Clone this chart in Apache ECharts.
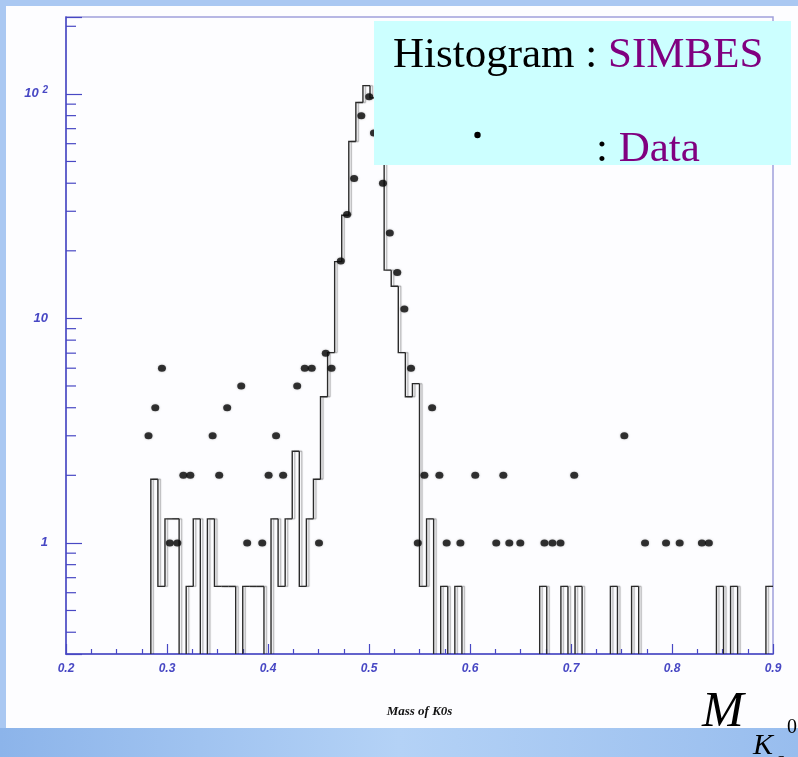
<!DOCTYPE html>
<html>
<head>
<meta charset="utf-8">
<script src="https://cdn.jsdelivr.net/npm/echarts@6/dist/echarts.min.js"></script>
<style>
html,body{margin:0;padding:0;background:#aac8f2;}
#main{width:798px;height:757px;}
</style>
</head>
<body>
<div id="main"></div>
<script>
// SIMBES histogram (already scaled), 100 bins of 0.007 from 0.2
var binStart = 0.2;
var binWidth = 0.007;
var simbesHist = [
    0,0,0,0,0,0,0,0,0,0,0,0,
    1.92,0.64,1.28,1.28,0,0.64,1.28,0,1.28,0.64,
    0.64,0.64,0,0.64,0.64,0.64,0,1.28,0.64,1.28,
    2.56,0.64,1.28,1.92,4.48,7.04,17.9,28.8,61.4,91.5,
    108.8,96,72,16.4,13.9,7.04,4.48,5.12,0.64,1.28,
    0,0.64,0,0.64,0,0,0,0,0,0,
    0,0,0,0,0,0.64,0,0,0.64,0,
    0.64,0,0,0,0,0.64,0,0,0.64,0,
    0,0,0,0,0,0,0,0,0,0,
    0.64,0,0.64,0,0,0,0,0.64
];

// Data points
var dataMass = [0.2817,0.2884,0.2950,0.3028,0.3102,0.3162,0.3231,0.3452,0.3517,0.3596,
    0.3735,0.3794,0.3943,0.4006,0.4080,0.4150,0.4289,0.4364,0.4433,0.4505,
    0.4572,0.4629,0.4721,0.4783,0.4853,0.4924,0.5002,0.5049,0.5138,0.5206,
    0.5280,0.5350,0.5416,0.5483,0.5548,0.5625,0.5697,0.5769,0.5905,0.6052,
    0.6260,0.6330,0.6389,0.6498,0.6737,0.6816,0.6896,0.7032,0.7528,0.7733,
    0.7941,0.8076,0.8296,0.8365];
var dataCount = [3,4,6,1,1,2,2,3,2,4,
    5,1,1,2,3,2,5,6,6,1,
    7,6,18,29,42,80,97,67,40,24,
    16,11,6,1,2,4,2,1,1,2,
    1,2,1,1,1,1,1,2,3,1,
    1,1,1,1];

// axis ranges and ticks
var xMin = 0.2, xMax = 0.9, xStep = 0.1;
var yMin = 0.32, yMax = 220;
var yMinorTicks = [0.4,0.5,0.6,0.7,0.8,0.9,2,3,4,5,6,7,8,9,20,30,40,50,60,70,80,90,200];

var axisBlue = '#4848c4';
var myChart = echarts.init(document.getElementById('main'));

var histData = simbesHist.map(function(h, i){
    return [binStart + i * binWidth, binStart + (i + 1) * binWidth, h, i > 0 ? simbesHist[i - 1] : 0];
});
var pointData = dataMass.map(function(m, i){ return [m, dataCount[i]]; });

function clampY(v){ return Math.max(v, yMin); }

function renderHist(params, api){
    var x0 = api.value(0), x1 = api.value(1), h = api.value(2), hp = api.value(3);
    if (h <= 0 && hp <= 0) return null;
    var pts = [api.coord([x0, clampY(hp)]), api.coord([x0, clampY(h)])];
    if (h > 0) pts.push(api.coord([x1, h]));
    return {
        type: 'polyline',
        shape: {points: pts},
        style: {fill: null, stroke: '#2b2b2b', lineWidth: 1.4,
            shadowColor: 'rgba(0,0,0,0.28)', shadowOffsetX: 2.5, shadowBlur: 1}
    };
}

function renderMinor(params, api){
    var p = api.coord([xMin, api.value(0)]);
    return {
        type: 'line',
        shape: {x1: p[0], y1: p[1], x2: p[0] + 10, y2: p[1]},
        style: {stroke: axisBlue, lineWidth: 1.2}
    };
}

var option = {
    backgroundColor: '#aac8f2',
    animation: false,
    grid: {left: 66, right: 25, top: 17, bottom: 103, show: true,
        borderColor: '#a0a0dc', borderWidth: 1.5, backgroundColor: 'transparent'},
    xAxis: {
        type: 'value', min: xMin, max: xMax, interval: xStep,
        name: 'Mass of K0s', nameLocation: 'middle', nameGap: 51,
        nameTextStyle: {fontFamily: 'Liberation Serif', fontStyle: 'italic', fontWeight: 'bold', fontSize: 13, color: '#111'},
        axisLine: {lineStyle: {color: axisBlue, width: 1.5}},
        axisTick: {inside: true, length: 10, lineStyle: {color: axisBlue, width: 1.2}},
        minorTick: {show: true, splitNumber: 4, length: 5, lineStyle: {color: axisBlue, width: 1.2}},
        splitLine: {show: false},
        axisLabel: {margin: 9, fontFamily: 'Liberation Sans', fontStyle: 'italic', fontWeight: 'bold',
            fontSize: 12, color: axisBlue,
            formatter: function(v){ return v.toFixed(1); }}
    },
    yAxis: {
        type: 'log', logBase: 10, min: yMin, max: yMax,
        axisLine: {lineStyle: {color: axisBlue, width: 1.5}},
        axisTick: {inside: true, length: 16, lineStyle: {color: axisBlue, width: 1.2}},
        splitLine: {show: false},
        axisLabel: {
            margin: 18, fontFamily: 'Liberation Sans', fontStyle: 'italic', fontWeight: 'bold',
            fontSize: 13, color: axisBlue,
            formatter: function(v){
                var l = Math.log10(v);
                if (Math.abs(l - Math.round(l)) > 1e-6) return '';
                var e = Math.round(l);
                if (e === 0) return '1';
                if (e === 1) return '10';
                return '10 {s|' + e + '}';
            },
            rich: {s: {fontSize: 10, fontStyle: 'italic', fontWeight: 'bold', color: axisBlue, verticalAlign: 'top', padding: [0, 0, 8, 0]}}
        }
    },
    series: [
        {type: 'custom', name: 'minorY', renderItem: renderMinor, data: yMinorTicks, silent: true, clip: false, z: 3},
        {type: 'custom', name: 'SIMBES', renderItem: renderHist, data: histData, silent: true, clip: true, z: 4},
        {type: 'scatter', name: 'Data', data: pointData, symbol: 'circle', symbolSize: [8, 7],
            itemStyle: {color: '#0a0a0a', shadowColor: 'rgba(0,0,0,0.35)', shadowBlur: 2}, z: 5}
    ],
    graphic: [
        {type: 'rect', z: -1, shape: {x: 6, y: 6, width: 792, height: 722}, style: {fill: '#fdfdff'}},
        {type: 'rect', z: -1, shape: {x: 0, y: 728, width: 798, height: 29},
            style: {fill: new echarts.graphic.LinearGradient(0, 0, 1, 0, [
                {offset: 0, color: '#8cb4ea'}, {offset: 0.5, color: '#b4d2f6'}, {offset: 1, color: '#98bdee'}])}},
        {type: 'rect', z: 10, shape: {x: 374, y: 21, width: 417, height: 144}, style: {fill: '#ccffff'}},
        {type: 'text', z: 11, x: 393, y: 56, style: {
            text: '{b|Histogram : }{p|SIMBES}', verticalAlign: 'middle',
            rich: {b: {fontFamily: 'Liberation Serif', fontSize: 43, fill: '#000'},
                   p: {fontFamily: 'Liberation Serif', fontSize: 43, fill: '#800080'}}}},
        {type: 'circle', z: 11, shape: {cx: 477.5, cy: 135, r: 3.2}, style: {fill: '#000'}},
        {type: 'text', z: 11, x: 596, y: 150, style: {
            text: '{b|: }{p|Data}', verticalAlign: 'middle',
            rich: {b: {fontFamily: 'Liberation Serif', fontSize: 43, fill: '#000'},
                   p: {fontFamily: 'Liberation Serif', fontSize: 43, fill: '#800080'}}}},
        {type: 'text', z: 11, x: 702, y: 713, style: {text: 'M', verticalAlign: 'middle',
            fontFamily: 'Liberation Serif', fontStyle: 'italic', fontSize: 50, fill: '#000'}},
        {type: 'text', z: 11, x: 753, y: 746, style: {text: 'K', verticalAlign: 'middle',
            fontFamily: 'Liberation Serif', fontStyle: 'italic', fontSize: 30, fill: '#000'}},
        {type: 'text', z: 11, x: 776, y: 760, style: {text: 's', verticalAlign: 'middle',
            fontFamily: 'Liberation Serif', fontStyle: 'italic', fontSize: 22, fill: '#000'}},
        {type: 'text', z: 11, x: 787, y: 728, style: {text: '0', verticalAlign: 'middle',
            fontFamily: 'Liberation Serif', fontSize: 20, fill: '#000'}}
    ]
};
myChart.setOption(option);
</script>
</body>
</html>
